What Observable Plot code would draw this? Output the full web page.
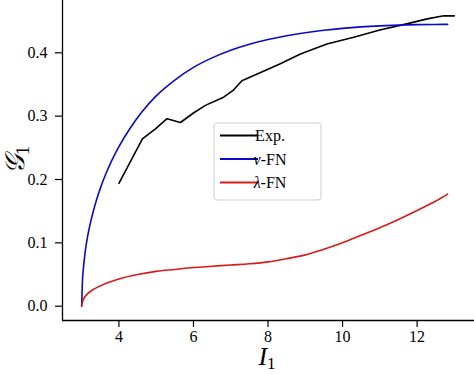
<!DOCTYPE html>
<html><head><meta charset="utf-8">
<script src="https://cdn.jsdelivr.net/npm/d3@7"></script>
<script src="https://cdn.jsdelivr.net/npm/@observablehq/plot@0.6"></script>
<style>body{margin:0;background:#fff}#chart{width:474px;height:374px}</style>
</head><body><div id="chart"></div>
<script>
// Experimental curve
const expI = [4.0, 4.35, 4.63, 4.98, 5.29, 5.65, 6.0, 6.32, 6.81, 7.08, 7.3, 7.8, 8.33, 8.87, 9.58, 10.3, 11.0, 11.72, 12.27, 12.72, 13.0];
const expG = [0.194, 0.233, 0.264, 0.280, 0.296, 0.290, 0.305, 0.317, 0.330, 0.3416, 0.356, 0.369, 0.3826, 0.398, 0.414, 0.4246, 0.436, 0.4457, 0.4536, 0.4584, 0.4584];
// nu-FN model
const nuI = [3.0, 3.02, 3.05, 3.1, 3.15, 3.2, 3.3, 3.4, 3.5, 3.65, 3.8, 4.0, 4.3, 4.62, 5.0, 5.5, 6.0, 6.5, 7.0, 7.5, 8.0, 8.5, 9.0, 9.5, 10.0, 10.5, 11.0, 11.5, 12.0, 12.5, 12.82];
const nuG = [0.0, 0.038, 0.062, 0.088, 0.107, 0.122, 0.147, 0.168, 0.186, 0.209, 0.229, 0.252, 0.281, 0.307, 0.332, 0.357, 0.377, 0.392, 0.404, 0.4135, 0.421, 0.427, 0.4318, 0.4356, 0.4386, 0.4409, 0.4426, 0.4438, 0.4445, 0.4448, 0.4449];
// lambda-FN model
const lamI = [3.0, 3.005, 3.02, 3.05, 3.15, 3.3, 3.5, 3.75, 4.0, 4.5, 5.0, 5.5, 6.0, 6.5, 7.0, 7.5, 8.0, 8.5, 9.0, 9.5, 10.0, 10.5, 11.0, 11.5, 12.0, 12.5, 12.82];
const lamG = [0.0, 0.003, 0.006, 0.011, 0.019, 0.026, 0.032, 0.038, 0.043, 0.050, 0.055, 0.058, 0.061, 0.063, 0.065, 0.067, 0.070, 0.075, 0.081, 0.090, 0.100, 0.112, 0.124, 0.137, 0.151, 0.166, 0.177];

const seriesColors = ["#000000", "#0a0ac8", "#d91a1a"];
const seriesCurves = ["linear", "monotone-x", "monotone-x"];
const legendGreek = ["", "ν", "λ"];
const legendRest = ["Exp.", "-FN", "-FN"];
const xTicks = [4, 6, 8, 10, 12];
const yTicks = [0.0, 0.1, 0.2, 0.3, 0.4];
const xDomain = [2.486, 13.54];
const yDomain = [-0.0226, 0.4826];

const toRows = (xs, ys) => xs.map((x, i) => ({I: x, G: ys[i]}));
const series = [toRows(expI, expG), toRows(nuI, nuG), toRows(lamI, lamG)];

const font = "'Liberation Serif', 'DejaVu Serif', serif";

const plot = Plot.plot({
  width: 474, height: 374,
  marginLeft: 62, marginRight: 0, marginTop: 0, marginBottom: 54,
  x: {domain: xDomain},
  y: {domain: yDomain},
  style: {fontFamily: font, fontSize: "16px", color: "#000", background: "#fff", overflow: "visible"},
  marks: [
    Plot.ruleX([xDomain[0]], {stroke: "#000", strokeWidth: 1.3}),
    Plot.ruleY([yDomain[0]], {stroke: "#000", strokeWidth: 1.3}),
    Plot.axisX(xTicks, {tickSize: 7, tickPadding: 3, label: null, fontSize: 16, strokeWidth: 1.2}),
    Plot.axisY(yTicks, {tickSize: 7, tickPadding: 8, label: null, fontSize: 16, strokeWidth: 1.2, tickFormat: d3.format(".1f")}),
    ...series.map((rows, k) => Plot.line(rows, {x: "I", y: "G", stroke: seriesColors[k], strokeWidth: 1.6, curve: seriesCurves[k]}))
  ]
});
document.getElementById("chart").appendChild(plot);

const svg = d3.select(plot);
// x label
const xl = svg.append("text").attr("x", 267).attr("y", 365).attr("text-anchor", "middle")
  .attr("font-family", font).attr("font-size", 26).attr("fill", "#000");
xl.append("tspan").attr("font-style", "italic").text("I");
xl.append("tspan").attr("font-size", 17).attr("dy", 4).text("1");
// y label
const yl = svg.append("text").attr("transform", "translate(24,160) rotate(-90)").attr("text-anchor", "middle")
  .attr("font-family", font).attr("font-size", 27).attr("fill", "#000");
yl.append("tspan").attr("font-style", "italic").text("𝒢");
yl.append("tspan").attr("font-size", 18).attr("dy", 5).text("1");

// legend
const lg = svg.append("g");
lg.append("rect").attr("x", 214).attr("y", 123).attr("width", 107).attr("height", 77).attr("rx", 3)
  .attr("fill", "#fff").attr("fill-opacity", 0.85).attr("stroke", "#cfcfcf").attr("stroke-width", 1);
legendRest.forEach((t, k) => {
  const y = 135.5 + k * 23.5;
  lg.append("line").attr("x1", 220).attr("x2", 258).attr("y1", y).attr("y2", y)
    .attr("stroke", seriesColors[k]).attr("stroke-width", 1.8);
  const tx = lg.append("text").attr("x", 270).attr("y", y).attr("dy", "0.35em")
    .attr("font-family", font).attr("font-size", 16).attr("fill", "#000");
  if (legendGreek[k]) tx.append("tspan").attr("font-style", "italic").text(legendGreek[k]);
  tx.append("tspan").text(t);
});
</script>
</body></html>
